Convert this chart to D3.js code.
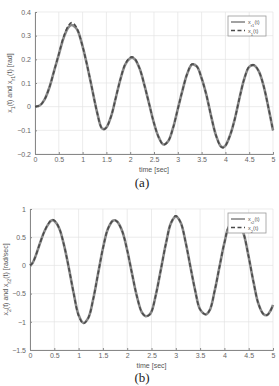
<!DOCTYPE html>
<html>
<head>
<meta charset="utf-8">
<script src="https://cdn.jsdelivr.net/npm/d3@7"></script>
<style>
  body { margin: 0; background: #fff; }
  svg { display: block; font-family: "Liberation Sans", Arial, sans-serif; }
</style>
</head>
<body>
<svg id="chart" width="279" height="386"></svg>
<script>
// time samples (sec)
const timeA = [0, 0.1, 0.2, 0.3, 0.4, 0.5, 0.6, 0.7, 0.77, 0.85, 0.9, 1.0, 1.1, 1.2, 1.3, 1.4, 1.45, 1.5, 1.6, 1.7, 1.8, 1.9, 2.0, 2.05, 2.1, 2.2, 2.3, 2.4, 2.5, 2.6, 2.7, 2.8, 2.9, 3.0, 3.1, 3.2, 3.3, 3.4, 3.5, 3.6, 3.7, 3.8, 3.9, 3.95, 4.0, 4.1, 4.2, 4.3, 4.4, 4.5, 4.6, 4.7, 4.8, 4.9, 5.0];
// (a) reference x_r1 and actual x_1 [rad]
const xr1 = [0, 0.005, 0.03, 0.08, 0.15, 0.22, 0.29, 0.335, 0.345, 0.335, 0.32, 0.255, 0.17, 0.075, -0.02, -0.09, -0.095, -0.088, -0.04, 0.04, 0.12, 0.18, 0.205, 0.207, 0.2, 0.16, 0.09, 0.01, -0.07, -0.13, -0.16, -0.145, -0.09, -0.01, 0.07, 0.14, 0.178, 0.17, 0.12, 0.05, -0.04, -0.12, -0.167, -0.172, -0.165, -0.12, -0.05, 0.04, 0.12, 0.168, 0.175, 0.15, 0.09, 0.0, -0.1];
const x1 =  [0, 0.005, 0.03, 0.08, 0.15, 0.222, 0.294, 0.342, 0.355, 0.342, 0.322, 0.255, 0.17, 0.075, -0.02, -0.09, -0.096, -0.088, -0.04, 0.04, 0.12, 0.182, 0.208, 0.21, 0.202, 0.16, 0.09, 0.01, -0.07, -0.13, -0.161, -0.145, -0.09, -0.01, 0.07, 0.14, 0.18, 0.17, 0.12, 0.05, -0.04, -0.12, -0.168, -0.173, -0.165, -0.12, -0.05, 0.04, 0.12, 0.169, 0.176, 0.15, 0.09, 0.0, -0.1];

const timeB = [0, 0.05, 0.1, 0.2, 0.3, 0.4, 0.45, 0.5, 0.6, 0.7, 0.8, 0.9, 1.0, 1.1, 1.2, 1.3, 1.4, 1.5, 1.6, 1.7, 1.75, 1.8, 1.9, 2.0, 2.1, 2.2, 2.3, 2.38, 2.45, 2.5, 2.6, 2.7, 2.8, 2.9, 3.0, 3.1, 3.2, 3.3, 3.4, 3.5, 3.62, 3.7, 3.8, 3.9, 4.0, 4.1, 4.25, 4.3, 4.4, 4.5, 4.6, 4.7, 4.8, 4.88, 4.95, 5.0];
// (b) reference x_r2 and actual x_2 [rad/sec]
const xr2 = [0, 0.04, 0.13, 0.38, 0.61, 0.76, 0.8, 0.79, 0.66, 0.36, -0.05, -0.5, -0.88, -1.02, -0.93, -0.6, -0.15, 0.3, 0.64, 0.79, 0.8, 0.77, 0.6, 0.27, -0.15, -0.55, -0.83, -0.9, -0.88, -0.82, -0.48, -0.04, 0.4, 0.75, 0.87, 0.76, 0.42, -0.02, -0.45, -0.78, -0.87, -0.79, -0.45, -0.02, 0.4, 0.7, 0.8, 0.77, 0.55, 0.15, -0.3, -0.68, -0.86, -0.88, -0.8, -0.7];
const x2 =  [0, 0.04, 0.13, 0.38, 0.61, 0.77, 0.81, 0.8, 0.66, 0.36, -0.05, -0.5, -0.89, -1.03, -0.93, -0.6, -0.15, 0.3, 0.64, 0.79, 0.8, 0.77, 0.6, 0.27, -0.15, -0.55, -0.83, -0.9, -0.88, -0.82, -0.48, -0.04, 0.4, 0.75, 0.88, 0.76, 0.42, -0.02, -0.45, -0.78, -0.87, -0.79, -0.45, -0.02, 0.4, 0.7, 0.81, 0.77, 0.55, 0.15, -0.3, -0.68, -0.86, -0.88, -0.8, -0.7];

const xTicks = [0, 0.5, 1, 1.5, 2, 2.5, 3, 3.5, 4, 4.5, 5];
const yTicksA = [-0.2, -0.1, 0, 0.1, 0.2, 0.3, 0.4];
const yTicksB = [-1.5, -1, -0.5, 0, 0.5, 1];

const svg = d3.select("#chart");

// label with subscripts: parts = [[text, isSub], ...]
function richText(sel, parts) {
  parts.forEach(([t, sub]) => {
    sel.append("tspan")
      .attr("baseline-shift", sub ? "sub" : null)
      .attr("font-size", sub ? "0.75em" : null)
      .text(t);
  });
}

function drawPanel(cfg) {
  const g = svg.append("g");
  const x = d3.scaleLinear().domain([0, 5]).range([cfg.left, cfg.right]);
  const y = d3.scaleLinear().domain(cfg.yDomain).range([cfg.bottom, cfg.top]);

  // grid
  g.selectAll(".gx").data(xTicks).join("line")
    .attr("x1", d => x(d)).attr("x2", d => x(d))
    .attr("y1", cfg.top).attr("y2", cfg.bottom)
    .attr("stroke", "#e4e4e4").attr("stroke-width", 0.7);
  g.selectAll(".gy").data(cfg.yTicks).join("line")
    .attr("x1", cfg.left).attr("x2", cfg.right)
    .attr("y1", d => y(d)).attr("y2", d => y(d))
    .attr("stroke", "#e4e4e4").attr("stroke-width", 0.7);

  // axes
  const xAxis = g.append("g").attr("transform", `translate(0,${cfg.bottom})`)
    .call(d3.axisBottom(x).tickValues(xTicks).tickSize(-2).tickPadding(3).tickFormat(d3.format("")));
  const yAxis = g.append("g").attr("transform", `translate(${cfg.left},0)`)
    .call(d3.axisLeft(y).tickValues(cfg.yTicks).tickSize(-2).tickPadding(4).tickFormat(d3.format("")));
  [xAxis, yAxis].forEach(a => {
    a.select(".domain").attr("stroke", "#888");
    a.selectAll(".tick line").attr("stroke", "#888");
    a.selectAll("text").attr("fill", "#666").attr("font-size", 7)
      .attr("font-family", "Liberation Sans, Arial, sans-serif");
  });

  // axis titles
  g.append("text")
    .attr("x", (cfg.left + cfg.right) / 2).attr("y", cfg.bottom + 18)
    .attr("text-anchor", "middle").attr("fill", "#555").attr("font-size", 7)
    .text("time [sec]");
  const yl = g.append("text")
    .attr("transform", `translate(${cfg.ylabelX},${(cfg.top + cfg.bottom) / 2}) rotate(-90)`)
    .attr("text-anchor", "middle").attr("fill", "#555").attr("font-size", 7);
  richText(yl, cfg.ylabel);

  // curves
  const line = d3.line()
    .x((d, i) => x(cfg.time[i]))
    .y(d => y(d))
    .curve(d3.curveCatmullRom.alpha(0.5));
  g.append("path").attr("d", line(cfg.ref))
    .attr("fill", "none").attr("stroke", "#8a8a8a").attr("stroke-width", 2.6);
  g.append("path").attr("d", line(cfg.act))
    .attr("fill", "none").attr("stroke", "#4a4a4a").attr("stroke-width", 1.6)
    .attr("stroke-dasharray", "4,2.5");

  // legend
  const lg = g.append("g").attr("transform", `translate(${cfg.right - 45},${cfg.top + 4})`);
  lg.append("rect").attr("width", 38).attr("height", 20)
    .attr("fill", "#fff").attr("stroke", "#999").attr("stroke-width", 0.8);
  lg.append("line").attr("x1", 3).attr("x2", 17).attr("y1", 6).attr("y2", 6)
    .attr("stroke", "#8a8a8a").attr("stroke-width", 1.6);
  lg.append("line").attr("x1", 3).attr("x2", 17).attr("y1", 14.5).attr("y2", 14.5)
    .attr("stroke", "#4a4a4a").attr("stroke-width", 1.4).attr("stroke-dasharray", "4,2.5");
  cfg.legend.forEach((parts, i) => {
    const t = lg.append("text").attr("x", 20).attr("y", 8 + i * 8.5)
      .attr("fill", "#555").attr("font-size", 5.5);
    richText(t, parts);
  });

  // caption
  svg.append("text")
    .attr("x", cfg.captionX).attr("y", cfg.captionY)
    .attr("text-anchor", "middle").attr("font-family", "Liberation Serif, Times New Roman, serif")
    .attr("font-size", 13).attr("fill", "#222")
    .text(cfg.caption);
}

drawPanel({
  left: 35, right: 273, top: 12, bottom: 154,
  yDomain: [-0.2, 0.4], yTicks: yTicksA,
  time: timeA, ref: xr1, act: x1,
  ylabelX: 12,
  ylabel: [["x", false], ["1", true], ["(t) and x", false], ["r1", true], ["(t) [rad]", false]],
  legend: [[["x", false], ["r1", true], ["(t)", false]], [["x", false], ["1", true], ["(t)", false]]],
  caption: "(a)", captionX: 142, captionY: 187
});

drawPanel({
  left: 30, right: 273, top: 209, bottom: 350,
  yDomain: [-1.5, 1], yTicks: yTicksB,
  time: timeB, ref: xr2, act: x2,
  ylabelX: 8,
  ylabel: [["x", false], ["2", true], ["(t) and x", false], ["r2", true], ["(t) [rad/sec]", false]],
  legend: [[["x", false], ["r2", true], ["(t)", false]], [["x", false], ["2", true], ["(t)", false]]],
  caption: "(b)", captionX: 142, captionY: 382
});
</script>
</body>
</html>
